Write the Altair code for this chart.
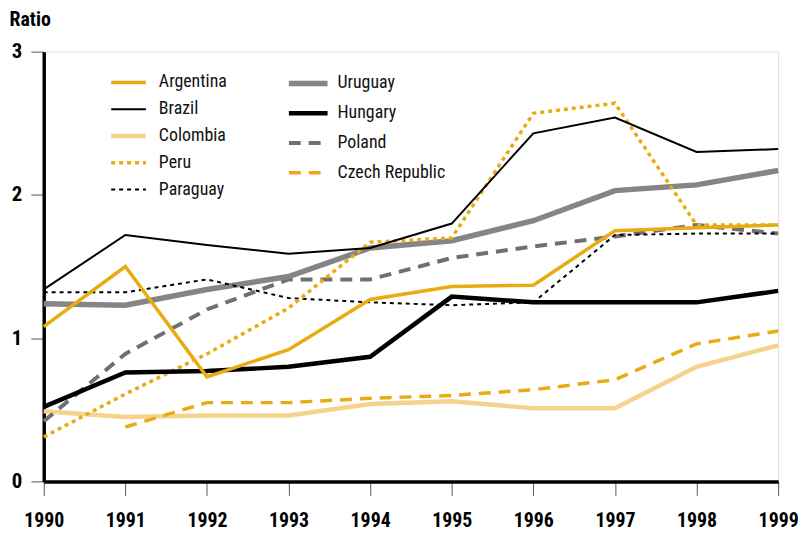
import altair as alt
import pandas as pd

years = [1990, 1991, 1992, 1993, 1994, 1995, 1996, 1997, 1998, 1999]
argentina = [1.08, 1.50, 0.73, 0.92, 1.27, 1.36, 1.37, 1.75, 1.77, 1.79]
brazil = [1.34, 1.72, 1.65, 1.59, 1.63, 1.80, 2.43, 2.54, 2.30, 2.32]
colombia = [0.49, 0.45, 0.46, 0.46, 0.54, 0.56, 0.51, 0.51, 0.80, 0.95]
peru = [0.31, 0.61, 0.89, 1.21, 1.67, 1.70, 2.57, 2.64, 1.79, 1.79]
paraguay = [1.32, 1.32, 1.41, 1.28, 1.25, 1.23, 1.25, 1.72, 1.73, 1.73]
uruguay = [1.24, 1.23, 1.34, 1.43, 1.63, 1.68, 1.82, 2.03, 2.07, 2.17]
hungary = [0.52, 0.76, 0.77, 0.80, 0.87, 1.29, 1.25, 1.25, 1.25, 1.33]
poland = [0.42, 0.89, 1.20, 1.41, 1.41, 1.56, 1.64, 1.71, 1.79, 1.73]
czech = [None, 0.38, 0.55, 0.55, 0.58, 0.60, 0.64, 0.71, 0.96, 1.05]

countries = ["Argentina", "Brazil", "Colombia", "Peru", "Paraguay",
             "Uruguay", "Hungary", "Poland", "Czech Republic"]
series = [argentina, brazil, colombia, peru, paraguay,
          uruguay, hungary, poland, czech]
colors = ["#E8AC12", "#000000", "#F5D38C", "#E8AC12", "#000000",
          "#858585", "#000000", "#707070", "#E8AC12"]
dashes = [None, None, None, [4, 4], [4, 4],
          None, None, [12, 8], [12, 8]]
widths = [3.5, 2, 4.5, 3.5, 2, 5.5, 4.5, 4, 3.5]
draw_order = [2, 8, 7, 5, 4, 3, 6, 0, 1]

rows = []
for i, c in enumerate(countries):
    for y, v in zip(years, series[i]):
        rows.append({"country": c, "year": y, "ratio": v})
df = pd.DataFrame(rows)

leg = pd.DataFrame({"country": countries, "idx": list(range(9))})

FONT = "Roboto Condensed, DejaVu Sans Condensed, Liberation Sans, sans-serif"

x_enc = alt.X("year:Q", scale=alt.Scale(domain=[1990, 1999], nice=False),
              axis=alt.Axis(values=years, format="d", title=None, grid=False,
                            labelFont=FONT, labelFontWeight="bold", labelFontSize=20,
                            labelColor="#000", labelPadding=15, tickSize=14,
                            tickColor="#555", tickWidth=1, domainColor="#000",
                            domainWidth=3.5, labelFlush=False))
y_enc = alt.Y("ratio:Q", scale=alt.Scale(domain=[0, 3], nice=False),
              axis=alt.Axis(values=[0, 1, 2, 3], title="Ratio", grid=False,
                            titleAngle=0, titleX=-35, titleY=-26, titleAlign="left",
                            titleBaseline="alphabetic", titleFont=FONT,
                            titleFontWeight="bold", titleFontSize=20, titleColor="#000",
                            labelFont=FONT, labelFontWeight="bold", labelFontSize=21,
                            labelColor="#000", labelPadding=9, tickSize=13,
                            tickColor="#555", tickWidth=1, domainColor="#000",
                            domainWidth=3.5))

def line_props(i):
    p = dict(color=colors[i], strokeWidth=widths[i], clip=False)
    if dashes[i] is not None:
        p["strokeDash"] = dashes[i]
    return p

layers = []
for k in range(9):
    i = draw_order[k]
    layers.append(
        alt.Chart(df).transform_filter(alt.datum.country == countries[i])
        .mark_line(**line_props(i))
        .encode(x=x_enc, y=y_enc, order=alt.Order("year:Q"))
    )

legbase = alt.Chart(leg).transform_calculate(
    col="datum.idx >= 5 ? 1 : 0",
    row="datum.idx >= 5 ? datum.idx - 5 : datum.idx",
).transform_calculate(
    lx="datum.col == 1 ? 247 : 68",
    lx2="datum.col == 1 ? 286 : 103",
    tx="datum.col == 1 ? 296 : 116",
    ly="datum.col == 1 ? 32 + 30 * datum.row : 31 + 27 * datum.row",
)

for i in range(9):
    p = line_props(i)
    p.pop("clip")
    layers.append(
        legbase.transform_filter(alt.datum.idx == i)
        .mark_rule(strokeCap="butt", **p)
        .encode(x=alt.X("lx:Q", scale=None), x2="lx2:Q", y=alt.Y("ly:Q", scale=None))
    )

leg_text = legbase.mark_text(align="left", baseline="middle", font=FONT,
                             fontSize=18, color="#111").encode(
    x=alt.X("tx:Q", scale=None),
    y=alt.Y("ly:Q", scale=None),
    text="country:N",
)
layers.append(leg_text)

chart = alt.layer(*layers).properties(
    width=740, height=433,
    autosize=alt.AutoSizeParams(type="none"),
    padding={"left": 36, "top": 42, "right": 21, "bottom": 50},
).configure_view(stroke=None).configure(background="white")

chart.save("out.html", embed_options={"renderer": "svg", "actions": False})
